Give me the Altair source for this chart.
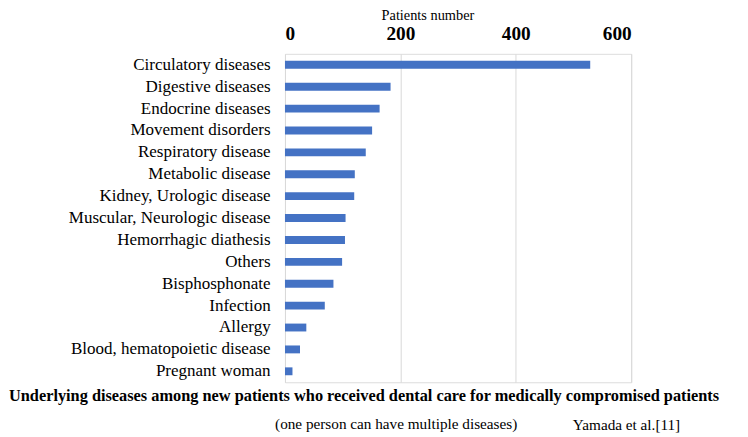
import altair as alt
import pandas as pd

categories = [
    "Circulatory diseases", "Digestive diseases", "Endocrine diseases",
    "Movement disorders", "Respiratory disease", "Metabolic disease",
    "Kidney, Urologic disease", "Muscular, Neurologic disease",
    "Hemorrhagic diathesis", "Others", "Bisphosphonate", "Infection",
    "Allergy", "Blood, hematopoietic disease", "Pregnant woman",
]
values = [529, 183, 164, 151, 140, 121, 120, 105, 104, 99, 84, 69, 37, 26, 13]
x_ticks = [0, 200, 400, 600]

title_text = ["Underlying diseases among new patients who received dental care for medically compromised patients"]
note_text = ["(one person can have multiple diseases)"]
source_text = ["Yamada et al.[11]"]

FONT = "Liberation Serif"
W, H = 350, 332

df = pd.DataFrame({"category": categories, "value": values})

bars = alt.Chart(df).mark_bar(color="#4472C4").encode(
    x=alt.X(
        "value:Q",
        scale=alt.Scale(domain=[0, 600], nice=False),
        axis=alt.Axis(
            orient="top", values=x_ticks, title="Patients number",
            titleFont=FONT, titleFontSize=14.5, titleFontWeight="normal",
            titleColor="#000000", titleX=144, titleY=-35, titleAlign="center",
            titleBaseline="alphabetic",
            labelFont=FONT, labelFontSize=19.5, labelFontWeight="bold",
            labelColor="#000000", labelPadding=11, ticks=False, tickSize=0,
            domain=False, grid=True, gridColor="#d9d9d9", gridWidth=1,
        ),
    ),
    y=alt.Y(
        "category:N", sort=categories,
        scale=alt.Scale(paddingInner=0.64, paddingOuter=0.32),
        axis=alt.Axis(
            title=None, labelFont=FONT, labelFontSize=17.2, labelColor="#000000",
            labelPadding=15, ticks=False, domain=False, labelLimit=300,
        ),
    ),
)

title_layer = alt.Chart(pd.DataFrame({"t": title_text})).mark_text(
    font=FONT, fontSize=16.5, fontWeight="bold", align="left",
    baseline="alphabetic", color="#000000",
).encode(x=alt.value(-279), y=alt.value(H + 19), text="t:N")

note_layer = alt.Chart(pd.DataFrame({"t": note_text})).mark_text(
    font=FONT, fontSize=15.4, align="left", baseline="alphabetic", color="#000000",
).encode(x=alt.value(-10), y=alt.value(H + 47), text="t:N")

source_layer = alt.Chart(pd.DataFrame({"t": source_text})).mark_text(
    font=FONT, fontSize=15.4, align="left", baseline="alphabetic", color="#000000",
).encode(x=alt.value(291), y=alt.value(H + 48), text="t:N")

chart = alt.layer(bars, title_layer, note_layer, source_layer).properties(
    width=W, height=H,
    autosize=alt.AutoSizeParams(type="none"),
    padding={"left": 280, "top": 44, "right": 110, "bottom": 53},
).configure_view(stroke=None).configure(background="white")

chart.save("out.html", embed_options={"renderer": "svg", "actions": False})
